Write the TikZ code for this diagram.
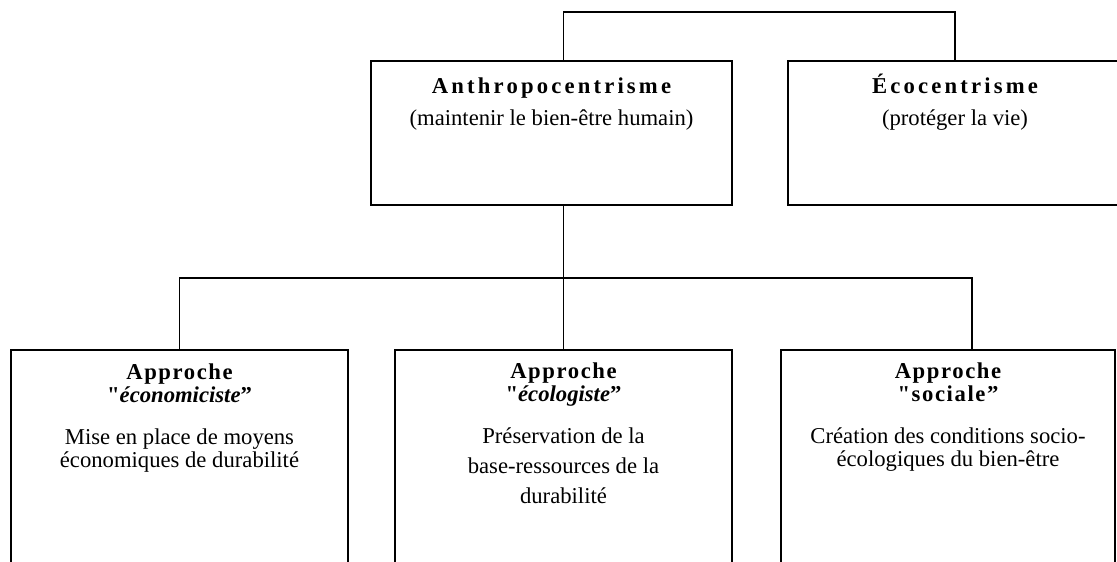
\documentclass[tikz,border=0pt]{standalone}
\usepackage{fontspec}
\setmainfont{Liberation Serif}
\newfontfamily\spacedfont[LetterSpace=14]{Liberation Serif}
\newfontfamily\semifont[LetterSpace=7]{Liberation Serif}
\newfontfamily\qfont{Liberation Serif}
\usetikzlibrary{positioning}

\begin{document}
\begin{tikzpicture}[x=0.75pt,y=-0.75pt]
        \tikzset{box/.style={draw, line width=1.4pt, inner sep=0pt, minimum height=202.5pt},
                 topbox/.style={box, minimum height=108pt},
                 txt/.style={align=center, inner sep=0pt, anchor=base, font=\fontsize{17}{17.25}\selectfont},
                 link/.style={line width=1.2pt}}
        \useasboundingbox (0,0) rectangle (1117,561);
        \clip (0,0) rectangle (1117,561);

        % upper level
        \node[topbox, minimum width=270.75pt] (anthro) at (551.5,133) {};
        \node[topbox, minimum width=250.5pt] (eco) at (955,133) {};
        \node[txt] (tanthro) at (551.5,125) {{\spacedfont\bfseries Anthropocentrisme}\\[6.75pt](maintenir le bien-être humain)};
        \node[txt] (teco) at (955,125) {{\spacedfont\bfseries Écocentrisme}\\[6.75pt](protéger la vie)};

        % lower level
        \node[box, minimum width=252.75pt] (approA) at (179.5,485) {};
        \node[box, minimum width=252.75pt] (approB) at (563.5,485) {};
        \node[box, minimum width=250.5pt] (approC) at (948,485) {};
        \node[txt] (tapproA) at (179.5,467) {{\semifont\bfseries Approche}\\[0pt]{\bfseries{\qfont"}\textit{économiciste}”}\\[14.25pt]Mise en place de moyens\\économiques de durabilité};
        \node[txt] (tapproB) at (563.5,503) {{\semifont\bfseries Approche}\\[0pt]{\bfseries{\qfont"}\textit{écologiste}”}\\[14.25pt]Préservation de la\\[5.25pt]base-ressources de la\\[5.25pt]durabilité};
        \node[txt] (tapproC) at (948,466) {{\semifont\bfseries Approche}\\[0pt]{\semifont\bfseries "sociale”}\\[14.25pt]Création des conditions socio-\\écologiques du bien-être};

        % connectors
        \coordinate (topbar) at (0,12);
        \coordinate (bus) at (563,278);
        \coordinate (cfoot) at (972,350);
        \draw[link] (anthro.north -| approB.north) |- (topbar -| eco.north) -- (eco.north);
        \draw[link] (anthro.south -| approB.north) -- (approB.north);
        \draw[link] (approA.north) |- (bus) -| (cfoot);
\end{tikzpicture}
\end{document}
